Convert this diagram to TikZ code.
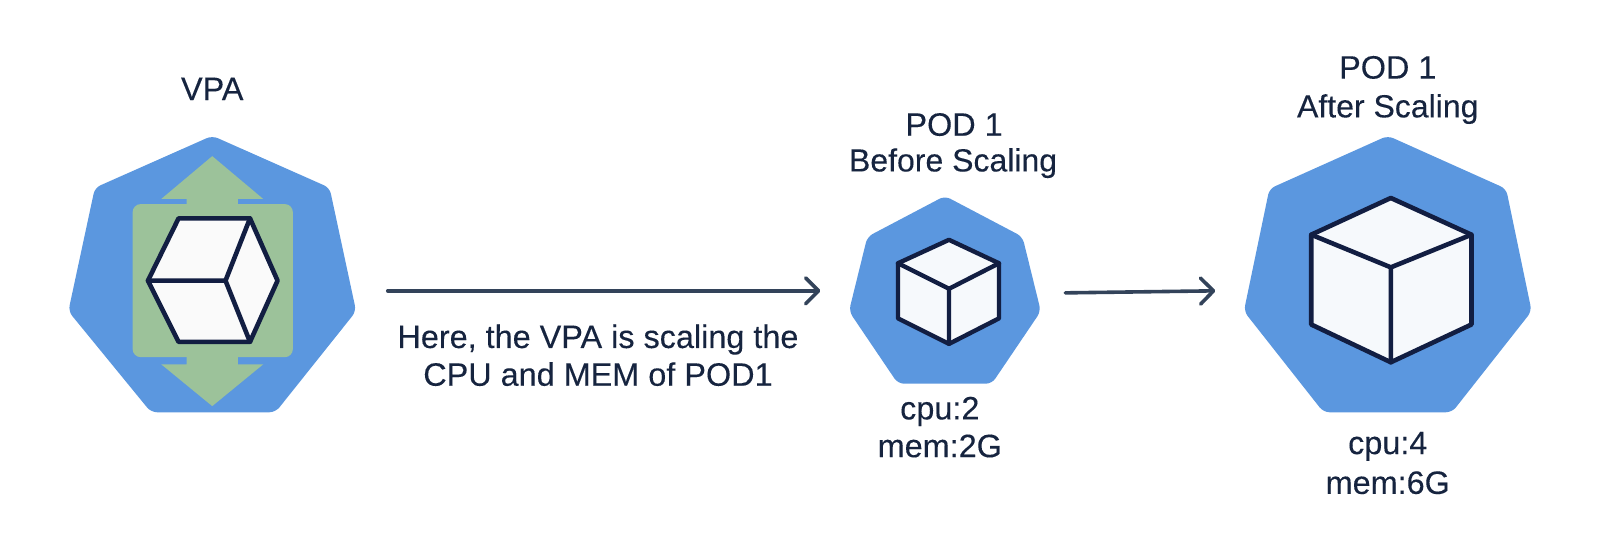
\documentclass[tikz,border=0pt]{standalone}
\usepackage{fontspec}
\setmainfont[FakeBold=0.2]{Liberation Sans}
\usetikzlibrary{arrows.meta}
\definecolor{podblue}{HTML}{5B97DF}
\definecolor{vpagreen}{HTML}{9CC29A}
\definecolor{cubeline}{HTML}{121E42}
\definecolor{cubefill}{HTML}{F6F9FC}
\definecolor{arrowcol}{HTML}{33435A}
\definecolor{textcol}{HTML}{16243F}
\tikzset{
  hept/.style={fill=podblue,rounded corners=3pt},
  cubeln/.style={draw=cubeline,line width=2.3pt,line join=round,line cap=round},
  cubesm/.style={cubeln,line width=2.2pt},
  lab/.style={text=textcol,anchor=base,font=\fontsize{16.2}{18}\selectfont,inner sep=0pt},
  labsm/.style={text=textcol,anchor=base,font=\fontsize{16}{18}\selectfont,inner sep=0pt},
  conn/.style={draw=arrowcol,line width=1.8pt,line cap=round,-{Straight Barb[length=6.5pt,width=13pt,round]}}
}
\begin{document}
\begin{tikzpicture}[x=0.5102pt,y=-0.5102pt]
\useasboundingbox (0,0) rectangle (1568,539);
% VPA
\fill[hept] (208,133) -- (323,184) -- (349,305) -- (270,404) -- (148,404) -- (67,305) -- (93,184) -- cycle;
\fill[vpagreen,rounded corners=4pt] (130,200) rectangle (287,350);
\fill[vpagreen] (208,153) -- (258,195) -- (233,195) -- (233,200) -- (183,200) -- (183,195) -- (158,195) -- cycle;
\fill[vpagreen] (208,398) -- (258,357) -- (233,357) -- (233,350) -- (183,350) -- (183,357) -- (158,357) -- cycle;
\draw[cubeln,fill=white!98!black] (145,275) -- (175,214) -- (245,214) -- (272,275) -- (245,335) -- (175,335) -- cycle;
\draw[cubeln] (145,275) -- (221,275) -- (245,214) (221,275) -- (245,335);
\node[lab] (vpa) at (208,98) {VPA};
% Pod before
\fill[hept] (926,192) -- (1002,232) -- (1020,305) -- (972,376) -- (880,376) -- (832,305) -- (850,232) -- cycle;
\draw[cubesm,fill=cubefill] (930,235) -- (979,258) -- (979,312) -- (930,337) -- (880,312) -- (880,258) -- cycle;
\draw[cubesm] (880,258) -- (930,283) -- (979,258) (930,283) -- (930,337);
\node[lab] (podA) at (935,133) {POD 1};
\node[labsm] (beforeL) at (934,168) {Before Scaling};
\node[lab] (cpuA) at (921,411) {cpu:2};
\node[lab] (memA) at (921,448) {mem:2G};
% Pod after
\fill[hept] (1360,133) -- (1476,185) -- (1501,305) -- (1423,404) -- (1297,404) -- (1219,305) -- (1244,185) -- cycle;
\draw[cubeln,fill=cubefill] (1363,194) -- (1442,230) -- (1442,318) -- (1363,355) -- (1285,318) -- (1285,230) -- cycle;
\draw[cubeln] (1285,230) -- (1363,262) -- (1442,230) (1363,262) -- (1363,355);
\node[lab] (podB) at (1360,77) {POD 1};
\node[labsm] (afterL) at (1360,115) {After Scaling};
\node[lab] (cpuB) at (1360,445) {cpu:4};
\node[lab] (memB) at (1360,484) {mem:6G};
% connectors
\coordinate (a1) at (380,285);
\coordinate (a2) at (804,285);
\coordinate (b1) at (1044,287);
\coordinate (b2) at (1191,285);
\draw[conn] (a1) -- (a2);
\draw[conn] (b1) -- (b2);
\node[lab] (cap1) at (586,341) {Here, the VPA is scaling the};
\node[lab] (cap2) at (586,378) {CPU and MEM of POD1};
\end{tikzpicture}
\end{document}
